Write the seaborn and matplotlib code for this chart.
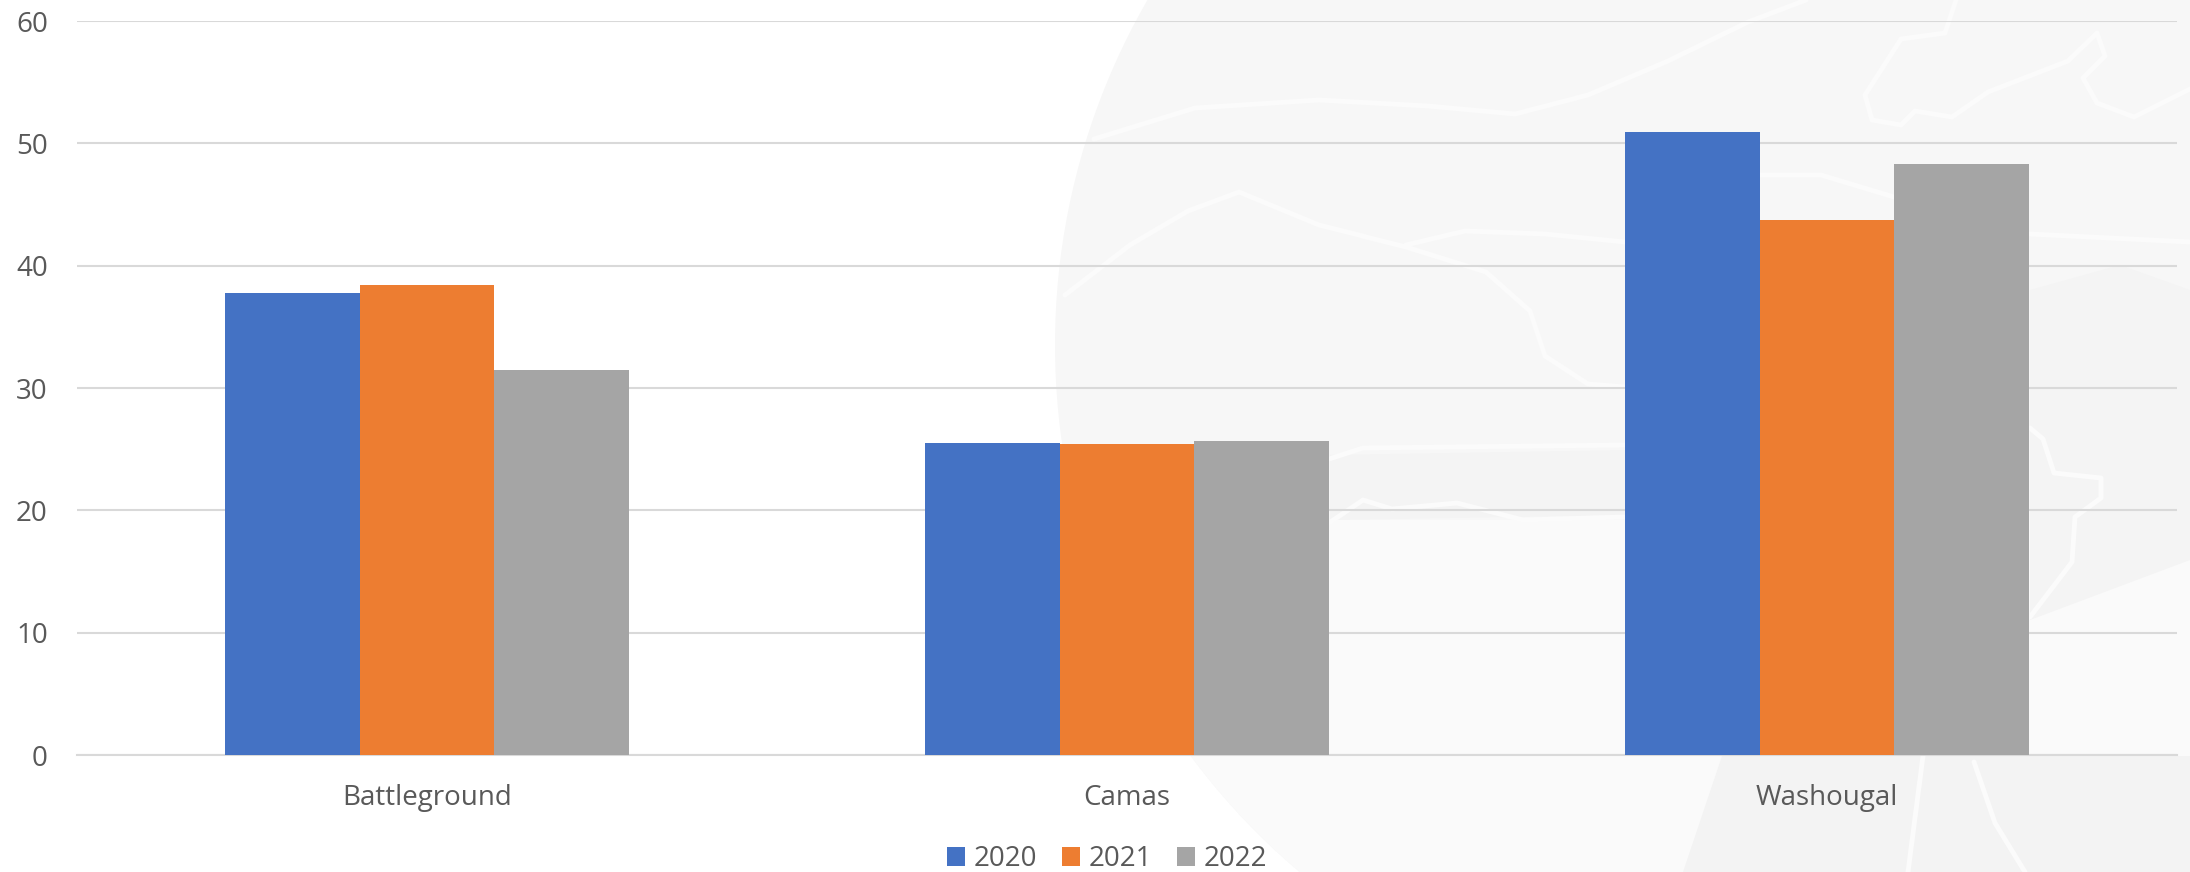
#!/usr/bin/env python3
import pandas as pd
import seaborn as sns
import matplotlib
matplotlib.use('Agg')
import matplotlib.pyplot as plt
from matplotlib.patches import Ellipse, Polygon
from matplotlib.lines import Line2D

# Values
towns = ['Battleground', 'Camas', 'Washougal']
values_2020 = [37.8, 25.5, 50.9]
values_2021 = [38.4, 25.4, 43.7]
values_2022 = [31.5, 25.7, 48.3]
years = ['2020', '2021', '2022']
y_ticks = [0, 10, 20, 30, 40, 50, 60]

bar_colors = ['#4472C4', '#ED7D31', '#A5A5A5']
text_color = '#595959'
grid_color = '#D9D9D9'

W, H = 2190, 872

# Faint background artwork, traced in pixel coordinates
wash_strokes = [
    [(1065, 295), (1130, 245), (1188, 211), (1239, 192), (1319, 225), (1406, 247), (1486, 272), (1530, 311), (1545, 356), (1588, 384), (1625, 387)],
    [(1094, 139), (1195, 108), (1319, 100), (1428, 106), (1515, 114), (1588, 95), (1668, 61), (1748, 22), (1806, 0)],
    [(1406, 245), (1465, 231), (1545, 234), (1625, 242)],
    [(1759, 175), (1821, 175), (1894, 197)],
    [(2030, 234), (2190, 242)],
    [(1329, 459), (1363, 448), (1625, 445)],
    [(1329, 523), (1363, 500), (1392, 509), (1457, 503), (1523, 520), (1625, 517)],
    [(1865, 95), (1901, 39), (1945, 33), (1956, 0)],
    [(1865, 95), (1872, 120), (1901, 125), (1915, 111), (1952, 117), (1988, 92), (2068, 61), (2097, 33), (2105, 56), (2083, 78), (2097, 103), (2134, 117), (2190, 89)],
    [(2030, 428), (2043, 439), (2054, 473), (2101, 478), (2101, 498), (2075, 517), (2072, 562), (2030, 617)],
    [(1923, 756), (1908, 872)],
    [(1974, 762), (1995, 823), (2025, 872)],
]


def px(x, y):
    return x / W, 1 - y / H


def draw_watermark(fig):
    circle = Ellipse(px(1745, 345), 1380 / W, 1380 / H, transform=fig.transFigure,
                     facecolor='#F7F7F7', edgecolor='none', zorder=-5)
    fig.add_artist(circle)
    shades = [
        ([(1050, 520), (2190, 520), (2190, 872), (1050, 872)], '#FAFAFA'),
        ([(1330, 455), (1630, 450), (1630, 515), (1330, 520)], '#F4F4F4'),
        ([(2030, 290), (2120, 265), (2190, 290), (2190, 560), (2030, 620)], '#F4F4F4'),
        ([(1722, 756), (2190, 756), (2190, 872), (1683, 872)], '#F3F3F3'),
    ]
    for pts, color in shades:
        patch = Polygon([px(*p) for p in pts], closed=True, transform=fig.transFigure,
                        facecolor=color, edgecolor='none', zorder=-4)
        fig.add_artist(patch)
        patch.set_clip_path(circle)
    for pts in wash_strokes:
        xs, ys = zip(*[px(*p) for p in pts])
        line = Line2D(xs, ys, transform=fig.transFigure, color='#FBFBFB', lw=3.5,
                      solid_capstyle='round', solid_joinstyle='round', zorder=-3)
        fig.add_artist(line)


def main():
    sns.set_theme(style='white')
    plt.rcParams['font.family'] = ['Open Sans', 'DejaVu Sans']

    df = pd.DataFrame({'town': towns, '2020': values_2020, '2021': values_2021, '2022': values_2022})
    df = df.melt(id_vars='town', value_vars=years, var_name='year', value_name='value')

    fig = plt.figure(figsize=(W / 100, H / 100), dpi=100, facecolor='white')
    draw_watermark(fig)

    ax = fig.add_axes([77 / W, 1 - 755 / H, 2100 / W, 734 / H])
    ax.patch.set_visible(False)
    sns.barplot(data=df, x='town', y='value', hue='year', order=towns, hue_order=years,
                palette=bar_colors, saturation=1, width=0.578, gap=0, errorbar=None,
                linewidth=0, ax=ax, zorder=3)

    ax.set_xlim(-0.5, 2.5)
    ax.set_ylim(0, 60)
    ax.set_yticks(y_ticks)
    ax.set_xlabel('')
    ax.set_ylabel('')
    ax.grid(axis='y', color=grid_color, lw=1.5, zorder=0)
    ax.grid(axis='x', visible=False)
    ax.set_axisbelow(True)
    sns.despine(ax=ax, left=True, top=True, right=True)
    ax.spines['bottom'].set_color(grid_color)
    ax.spines['bottom'].set_linewidth(1.5)
    ax.tick_params(axis='y', length=0, pad=21, labelsize=20, labelcolor=text_color)
    ax.tick_params(axis='x', length=0, pad=21, labelsize=20, labelcolor=text_color)

    handles, labels = ax.get_legend_handles_labels()
    ax.legend_.remove()
    fig.legend(handles, labels, loc='center', bbox_to_anchor=px(1107, 859), ncol=3,
               frameon=False, fontsize=20, labelcolor=text_color, handlelength=0.66,
               handleheight=0.66, handletextpad=0.3, columnspacing=0.9, borderpad=0,
               borderaxespad=0)

    fig.savefig('out.png', dpi=100)


if __name__ == "__main__":
    main()
